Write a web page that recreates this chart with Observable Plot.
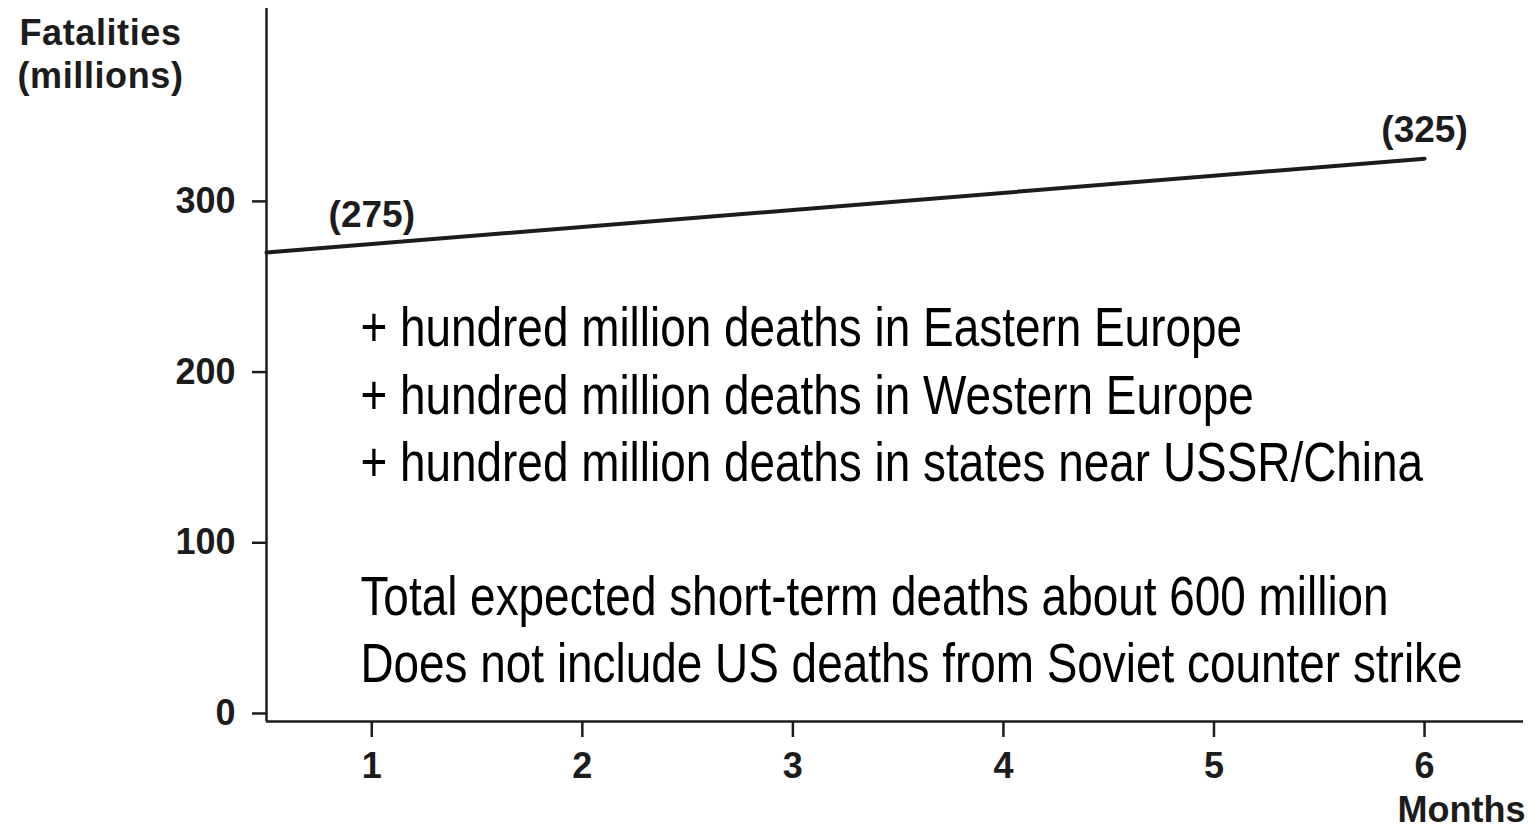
<!DOCTYPE html>
<html>
<head>
<meta charset="utf-8">
<script src="https://cdn.jsdelivr.net/npm/d3@7"></script>
<script src="https://cdn.jsdelivr.net/npm/@observablehq/plot@0.6"></script>
<style>
  html, body { margin: 0; padding: 0; background: #fff; }
  #chart svg { display: block; }
</style>
</head>
<body>
<div id="chart"></div>
<script>
// ---- data ----
const months = [0.5, 1, 6];
const fatalities = [270, 275, 325];
const labeledMonths = [1, 6];
const labeledValues = [275, 325];
const xTicks = [1, 2, 3, 4, 5, 6];
const yTicks = [0, 100, 200, 300];
const yTitle = ["Fatalities", "(millions)"];
const xTitle = "Months";
const notes = [
  "+ hundred million deaths in Eastern Europe",
  "+ hundred million deaths in Western Europe",
  "+ hundred million deaths in states near USSR/China",
  "",
  "Total expected short-term deaths about 600 million",
  "Does not include US deaths from Soviet counter strike"
];

const series = months.map((m, i) => ({month: m, value: fatalities[i]}));
const labels = labeledMonths.map((m, i) => ({month: m, value: labeledValues[i], text: `(${labeledValues[i]})`}));

const xDomain = [0.5, 6.47];
const yDomain = [-4.7, 413];
const notesAt = {month: 0.946, value: 243};
const narrow = 0.82; // horizontal compression to mimic a condensed face
const ink = "#1c1c1c";
const boldFont = "'Liberation Sans', Arial, Helvetica, sans-serif";

const chart = Plot.plot({
  width: 1535,
  height: 828,
  marginLeft: 266,
  marginRight: 12,
  marginTop: 8,
  marginBottom: 107,
  x: {domain: xDomain},
  y: {domain: yDomain},
  style: {fontFamily: boldFont, color: ink, background: "#fff"},
  marks: [
    Plot.axisY({ticks: yTicks, tickFormat: d => String(d), tickSize: 14, tickPadding: 17, fontSize: 36, fontWeight: "bold", strokeWidth: 2.5, label: null}),
    Plot.axisX({ticks: xTicks, tickFormat: d => String(d), tickSize: 16, tickPadding: 15, fontSize: 36, fontWeight: "bold", strokeWidth: 2.5, label: null}),
    Plot.ruleX([xDomain[0]], {stroke: ink, strokeWidth: 2.5}),
    Plot.ruleY([yDomain[0]], {stroke: ink, strokeWidth: 2.5}),
    Plot.line(series, {x: "month", y: "value", stroke: ink, strokeWidth: 4}),
    Plot.text(labels, {x: "month", y: "value", text: "text", dy: -17, lineAnchor: "bottom", fontSize: 37, fontWeight: "bold", fill: ink}),
    Plot.text([yTitle.join("\n")], {frameAnchor: "top-left", dx: -166, dy: 6, textAnchor: "middle", lineAnchor: "top", lineHeight: 1.2, fontSize: 36, fontWeight: "bold", fill: ink}),
    Plot.text([xTitle], {frameAnchor: "bottom-right", dx: 2, dy: 100, textAnchor: "end", lineAnchor: "bottom", fontSize: 36, fontWeight: "bold", fill: ink}),
    Plot.text([notes.join("\n")], {x: () => notesAt.month, y: () => notesAt.value, textAnchor: "start", lineAnchor: "top", lineHeight: 1.2, fontSize: 56, fontWeight: "normal", fontFamily: "'Liberation Sans', Arial, sans-serif", fill: "#000"})
  ]
});

// condense the annotation block horizontally around its left edge
const x0 = chart.scale("x").apply(notesAt.month);
d3.select(chart).selectAll("text")
  .filter(function () { return this.textContent.includes(notes[0]); })
  .each(function () {
    const parent = this.parentNode;
    const wrap = document.createElementNS("http://www.w3.org/2000/svg", "g");
    wrap.setAttribute("transform", `translate(${x0},0) scale(${narrow},1) translate(${-x0},0)`);
    parent.insertBefore(wrap, this);
    wrap.appendChild(this);
  });

// slight tracking on the y title like the reference
d3.select(chart).selectAll("text")
  .filter(function () { return this.textContent.includes(yTitle[0]); })
  .attr("letter-spacing", 0.6);

document.getElementById("chart").appendChild(chart);
</script>
</body>
</html>
